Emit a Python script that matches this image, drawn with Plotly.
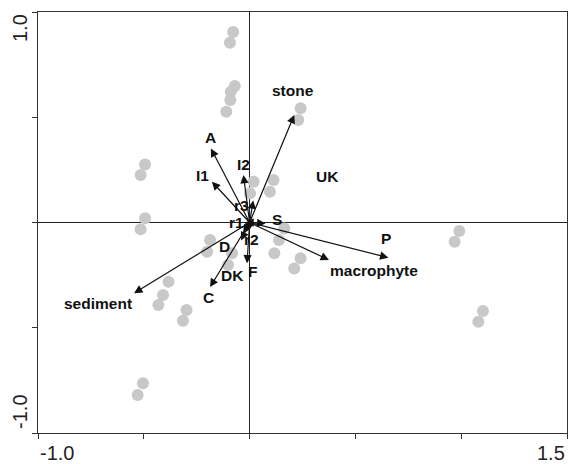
import plotly.graph_objects as go

# Sample scores (grey points)
site_x = [-0.078, -0.093, -0.070, -0.089, -0.091, -0.110, 0.241, 0.230,
          -0.494, -0.515, 0.019, 0.002, 0.113, 0.096, -0.494, -0.515,
          -0.187, -0.201, -0.083, -0.102, 0.164, 0.139, 0.117, 0.241, 0.211,
          -0.383, -0.409, -0.431, -0.298, -0.315, -0.504, -0.529,
          0.991, 0.969, 1.103, 1.081]
site_y = [0.905, 0.854, 0.648, 0.621, 0.582, 0.526, 0.543, 0.487,
          0.276, 0.226, 0.194, 0.139, 0.202, 0.146, 0.020, -0.032,
          -0.083, -0.139, -0.146, -0.202, -0.028, -0.083, -0.146, -0.170, -0.218,
          -0.281, -0.344, -0.392, -0.416, -0.467, -0.764, -0.820,
          -0.040, -0.091, -0.420, -0.471]

# Environmental variable vectors
var_names = ["stone", "A", "I2", "I1", "UK", "r3", "r1", "S", "r2", "D",
             "DK", "F", "C", "sediment", "macrophyte", "P"]
var_x = [0.211, -0.183, -0.029, -0.178, 0.0, 0.017, -0.020, 0.075, -0.015,
         -0.030, -0.040, -0.012, -0.187, -0.546, 0.375, 0.656]
var_y = [0.511, 0.352, 0.226, 0.194, 0.0, 0.105, 0.0, -0.005, -0.045,
         -0.050, -0.085, -0.194, -0.307, -0.336, -0.178, -0.167]
# label anchor coordinates (data units)
lab_x = [0.207, -0.183, -0.027, -0.221, 0.367, -0.037, -0.064, 0.128, 0.007,
         -0.118, -0.083, 0.014, -0.195, -0.717, 0.589, 0.646]
lab_y = [0.629, 0.403, 0.276, 0.222, 0.218, 0.083, -0.002, 0.012, -0.083,
         -0.115, -0.254, -0.234, -0.357, -0.387, -0.229, -0.078]

x_ticks = [-1.0, -0.5, 0.0, 0.5, 1.0, 1.5]
y_ticks = [-1.0, -0.5, 0.0, 0.5, 1.0]

fig = go.Figure()
fig.add_trace(go.Scatter(
    x=site_x, y=site_y, mode="markers",
    marker=dict(size=12, color="#c8c8c8", line=dict(width=0)),
    hoverinfo="skip", showlegend=False))

annotations = []
for n, vx, vy, lx, ly in zip(var_names, var_x, var_y, lab_x, lab_y):
    if vx != 0 or vy != 0:
        annotations.append(dict(
            x=vx, y=vy, ax=0, ay=0, xref="x", yref="y", axref="x", ayref="y",
            text="", showarrow=True, arrowhead=2, arrowsize=1.4,
            arrowwidth=1.2, arrowcolor="#111111", standoff=0))
for n, lx, ly in zip(var_names, lab_x, lab_y):
    annotations.append(dict(
        x=lx, y=ly, xref="x", yref="y", text="<b>%s</b>" % n,
        showarrow=False, xanchor="center", yanchor="middle",
        font=dict(family="Liberation Sans, Arial, sans-serif", size=15.5,
                  color="#111111")))

tick_font = dict(family="Liberation Sans, Arial, sans-serif", size=20,
                 color="#222222")
annotations += [
    dict(x=0, y=-0.0475, xref="paper", yref="paper", text="-1.0",
         showarrow=False, xanchor="left", yanchor="middle", font=tick_font),
    dict(x=1, y=-0.0475, xref="paper", yref="paper", text="1.5",
         showarrow=False, xanchor="right", yanchor="middle", font=tick_font),
    dict(x=-0.034, y=0.962, xref="paper", yref="paper", text="1.0",
         showarrow=False, xanchor="center", yanchor="middle", textangle=-90,
         font=tick_font),
    dict(x=-0.034, y=0.05, xref="paper", yref="paper", text="-1.0",
         showarrow=False, xanchor="center", yanchor="middle", textangle=-90,
         font=tick_font),
]

axis_common = dict(showgrid=False, showline=True, mirror=True,
                   linecolor="#333333", linewidth=1.2, ticks="outside",
                   ticklen=5, tickwidth=1.2, tickcolor="#333333",
                   showticklabels=False, zeroline=True,
                   zerolinecolor="#222222", zerolinewidth=1)

fig.update_layout(
    width=568, height=464,
    margin=dict(l=38, r=1, t=12, b=31),
    paper_bgcolor="white", plot_bgcolor="white",
    xaxis=dict(range=[-1.0, 1.5], tickvals=x_ticks, **axis_common),
    yaxis=dict(range=[-1.0, 1.0], tickvals=y_ticks, **axis_common),
    annotations=annotations,
    showlegend=False,
)

fig.write_html(
    "out.html",
    config={"displayModeBar": False},
    post_script="document.body.style.margin='0';"
                "document.body.style.overflow='hidden';"
                "document.documentElement.style.overflow='hidden';")
